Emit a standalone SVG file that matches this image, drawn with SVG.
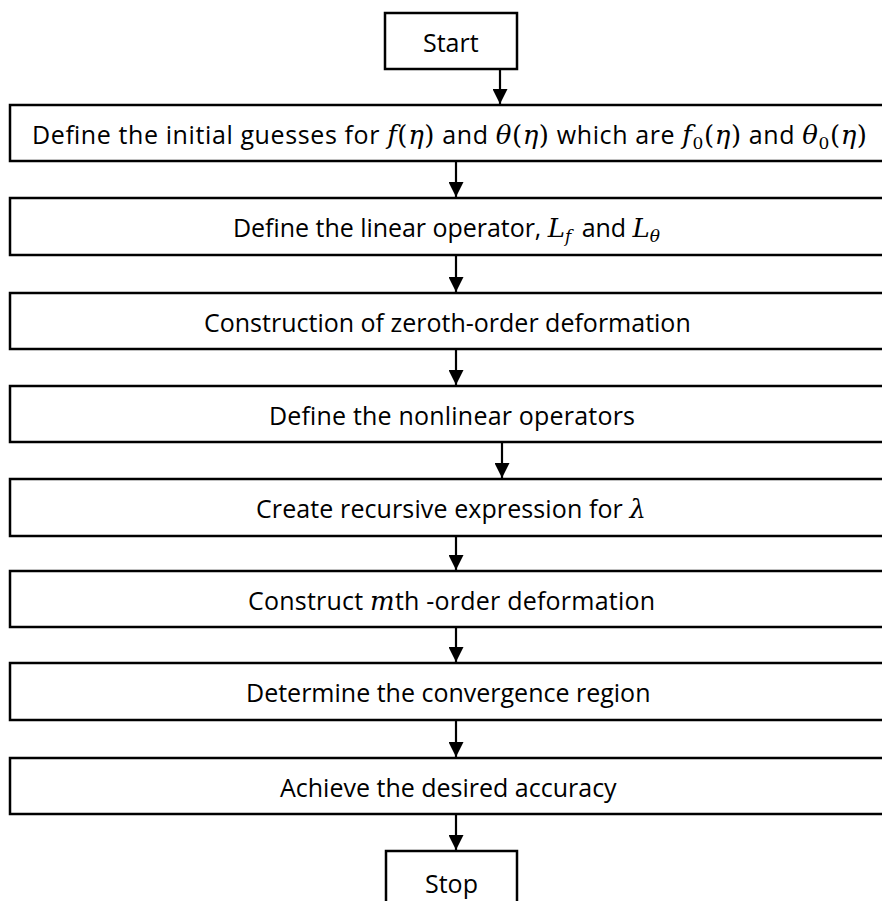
<svg xmlns="http://www.w3.org/2000/svg" width="882" height="901" viewBox="0 0 882 901">
<style>
.box{fill:#fff;stroke:#000;stroke-width:2.5}
.t{font-family:"Open Sans","Noto Sans",sans-serif;font-size:25px;fill:#000}
.m{font-family:"DejaVu Serif","Liberation Serif",serif;font-style:italic;font-size:26px}
.u{font-family:"DejaVu Serif","Liberation Serif",serif;font-style:normal;font-size:26px}
.s{font-size:17px}
.c{stroke:#000;stroke-width:2.2;fill:none}
</style>
<defs>
<marker id="ah" markerUnits="userSpaceOnUse" markerWidth="15" markerHeight="15" refX="15" refY="7.5" orient="auto">
<path d="M0,0 L15,7.5 L0,15 z" fill="#000"/>
</marker>
</defs>
<rect width="882" height="901" fill="#fff"/>
<g id="connectors">
<line class="c" x1="500" y1="69" x2="500" y2="104" marker-end="url(#ah)"/>
<line class="c" x1="456" y1="161" x2="456" y2="197" marker-end="url(#ah)"/>
<line class="c" x1="456" y1="255" x2="456" y2="292" marker-end="url(#ah)"/>
<line class="c" x1="456" y1="349" x2="456" y2="385" marker-end="url(#ah)"/>
<line class="c" x1="502" y1="442" x2="502" y2="478" marker-end="url(#ah)"/>
<line class="c" x1="456" y1="536" x2="456" y2="570" marker-end="url(#ah)"/>
<line class="c" x1="456" y1="627" x2="456" y2="662" marker-end="url(#ah)"/>
<line class="c" x1="456" y1="720" x2="456" y2="757" marker-end="url(#ah)"/>
<line class="c" x1="456" y1="814" x2="456" y2="850" marker-end="url(#ah)"/>
</g>
<g id="start">
<rect class="box" x="385" y="13" width="132" height="56"/>
<text class="t" x="423" y="51.5">Start</text>
</g>
<g id="step1">
<rect class="box" x="10" y="105" width="900" height="56"/>
<text class="t" x="32" y="143.5" textLength="835" lengthAdjust="spacing">Define the initial guesses for <tspan class="m">f</tspan><tspan class="u">(</tspan><tspan class="m">η</tspan><tspan class="u">)</tspan> and <tspan class="m">θ</tspan><tspan class="u">(</tspan><tspan class="m">η</tspan><tspan class="u">)</tspan> which are <tspan class="m">f</tspan><tspan class="u s" dy="5">0</tspan><tspan class="u" dy="-5">(</tspan><tspan class="m">η</tspan><tspan class="u">)</tspan> and <tspan class="m">θ</tspan><tspan class="u s" dy="5">0</tspan><tspan class="u" dy="-5">(</tspan><tspan class="m">η</tspan><tspan class="u">)</tspan></text>
</g>
<g id="step2">
<rect class="box" x="10" y="198" width="900" height="57"/>
<text class="t" x="233" y="237" textLength="427" lengthAdjust="spacing">Define the linear operator, <tspan class="m">L</tspan><tspan class="m s" dy="5">f</tspan><tspan dy="-5" dx="4"> and </tspan><tspan class="m">L</tspan><tspan class="m s" dy="5">θ</tspan></text>
</g>
<g id="step3">
<rect class="box" x="10" y="293" width="900" height="56"/>
<text class="t" x="204" y="331.5">Construction of zeroth-order deformation</text>
</g>
<g id="step4">
<rect class="box" x="10" y="386" width="900" height="56"/>
<text class="t" x="269" y="424.5" textLength="366" lengthAdjust="spacing">Define the nonlinear operators</text>
</g>
<g id="step5">
<rect class="box" x="10" y="479" width="900" height="57"/>
<text class="t" x="256" y="518" textLength="390" lengthAdjust="spacing">Create recursive expression for <tspan class="m">λ</tspan></text>
</g>
<g id="step6">
<rect class="box" x="10" y="571" width="900" height="56"/>
<text class="t" x="248" y="609.5" textLength="407" lengthAdjust="spacing">Construct <tspan class="m">m</tspan>th -order deformation</text>
</g>
<g id="step7">
<rect class="box" x="10" y="663" width="900" height="57"/>
<text class="t" x="246" y="702">Determine the convergence region</text>
</g>
<g id="step8">
<rect class="box" x="10" y="758" width="900" height="56"/>
<text class="t" x="280" y="796.5">Achieve the desired accuracy</text>
</g>
<g id="stop">
<rect class="box" x="386" y="851" width="131" height="70"/>
<text class="t" x="425" y="893">Stop</text>
</g>
</svg>
